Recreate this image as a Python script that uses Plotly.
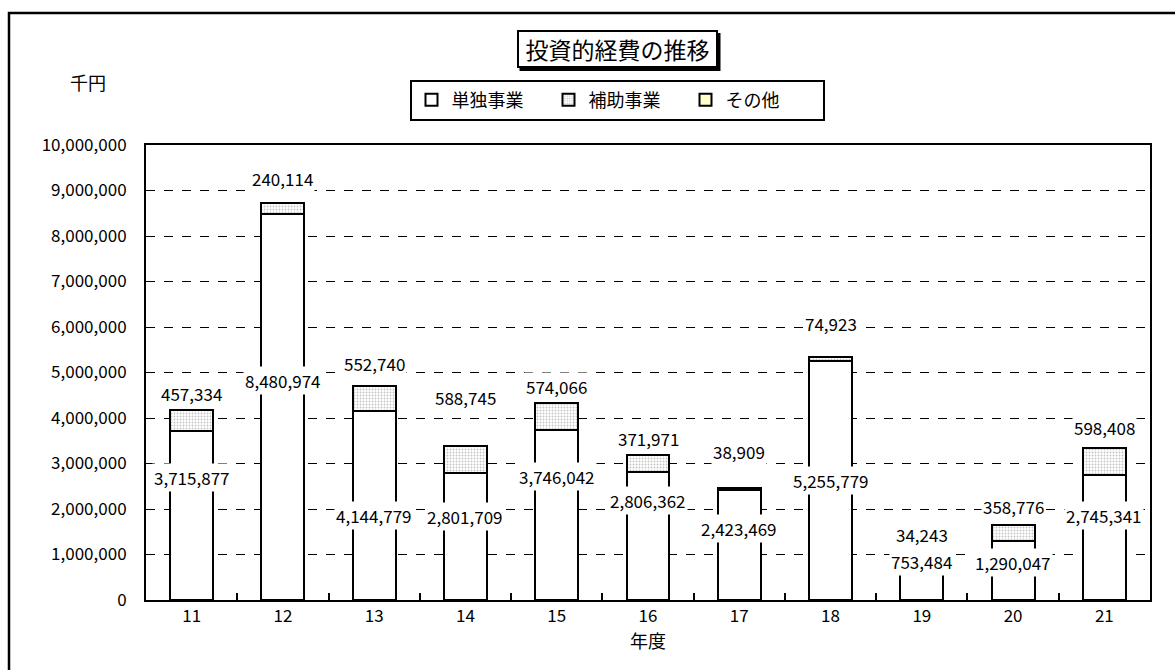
import plotly.graph_objects as go

years = ["11", "12", "13", "14", "15", "16", "17", "18", "19", "20", "21"]
single = [3715877, 8480974, 4144779, 2801709, 3746042, 2806362, 2423469, 5255779, 753484, 1290047, 2745341]
subsidy = [457334, 240114, 552740, 588745, 574066, 371971, 38909, 74923, 34243, 358776, 598408]
other = [0, 0, 0, 0, 0, 0, 0, 0, 0, 0, 0]

# label pixel offsets (Excel labels were moved by hand)
single_shift = [38, 27, -10, 20, 38, 36, 16, 0, 21, 8, 22]
subsidy_shift = [17, 25, 23, 48, 17, 17, 36, 34, 30, 18, 20]

FONT = "Noto Sans CJK JP"
L, R, T, B = 146, 25, 145, 70
W, H = 1175, 670
PW, PH = W - L - R, H - T - B

def px(xp):
    return (xp - L) / PW

def py(yp):
    return (H - B - yp) / PH

fig = go.Figure()
line = dict(color="black", width=2)
fig.add_bar(x=years, y=single, name="単独事業",
            marker=dict(color="white", line=line))
fig.add_bar(x=years, y=subsidy, name="補助事業",
            marker=dict(color="white", line=line,
                        pattern=dict(shape=".", fgcolor="#8a8a8a", bgcolor="white",
                                     size=3, solidity=0.3)))
fig.add_bar(x=years, y=other, name="その他",
            marker=dict(color="#FFFFCC", line=line))

anns = []
for i, yr in enumerate(years):
    anns.append(dict(x=i, y=single[i] / 2, xref="x", yref="y", yshift=single_shift[i],
                     text=f"{single[i]:,}", showarrow=False, bgcolor="white",
                     font=dict(family=FONT, size=17, color="black")))
    top = single[i] + subsidy[i] + other[i]
    anns.append(dict(x=i, y=top, xref="x", yref="y", yshift=subsidy_shift[i],
                     text=f"{subsidy[i]:,}", showarrow=False, bgcolor="white",
                     font=dict(family=FONT, size=17, color="black")))

# title box with drop shadow (shadow drawn as a shape)
TX, TY, TW, TH = 617, 49, 201, 38
anns.append(dict(x=px(TX), y=py(TY), xref="paper", yref="paper",
                 xanchor="center", yanchor="middle", width=TW - 8, height=TH - 8,
                 text="投資的経費の推移", showarrow=False, bgcolor="white",
                 bordercolor="black", borderwidth=2, borderpad=2,
                 font=dict(family=FONT, size=23, color="black")))
anns.append(dict(x=px(88), y=py(82), xref="paper", yref="paper", text="千円",
                 xanchor="center", yanchor="middle",
                 showarrow=False, font=dict(family=FONT, size=18, color="black")))

shapes = [
    dict(type="rect", xref="paper", yref="paper",
         x0=px(TX - TW / 2 + 3), x1=px(TX + TW / 2 + 3),
         y0=py(TY + TH / 2 + 3), y1=py(TY - TH / 2 + 3),
         line=dict(width=0), fillcolor="black", layer="above"),
    dict(type="rect", xref="paper", yref="paper",
         x0=px(9), x1=px(1190), y0=py(690), y1=py(13),
         line=dict(color="black", width=2.5), fillcolor="rgba(0,0,0,0)", layer="above"),
]

fig.update_layout(
    width=W, height=H,
    margin=dict(l=L, r=R, t=T, b=B, autoexpand=False),
    barmode="stack", bargap=0.53,
    plot_bgcolor="white", paper_bgcolor="white",
    font=dict(family=FONT, size=17, color="black"),
    showlegend=True,
    legend=dict(orientation="h", x=px(617), y=py(100), xanchor="center", yanchor="middle",
                bordercolor="black", borderwidth=2, bgcolor="white",
                font=dict(family=FONT, size=18, color="black"),
                entrywidth=92, itemwidth=30, traceorder="normal"),
    annotations=anns, shapes=shapes,
    xaxis=dict(type="category", showline=True, linecolor="black", linewidth=2, mirror=True,
               ticks="inside", tickson="boundaries", ticklen=7, tickwidth=2, tickcolor="black",
               showgrid=False, title=dict(text="年度", standoff=0, font=dict(size=18)),
               tickfont=dict(size=17), automargin=False),
    yaxis=dict(range=[0, 10000000], dtick=1000000, tickformat=",", showline=True,
               linecolor="black", linewidth=2, mirror=True, showgrid=True,
               gridcolor="black", gridwidth=1, griddash="dash", zeroline=False,
               tickfont=dict(size=17), ticks="", ticklabelstandoff=14, automargin=False),
)

fig.write_html("out.html", config=dict(displayModeBar=False),
               post_script="document.body.style.margin='0px';document.body.style.overflow='hidden';")
